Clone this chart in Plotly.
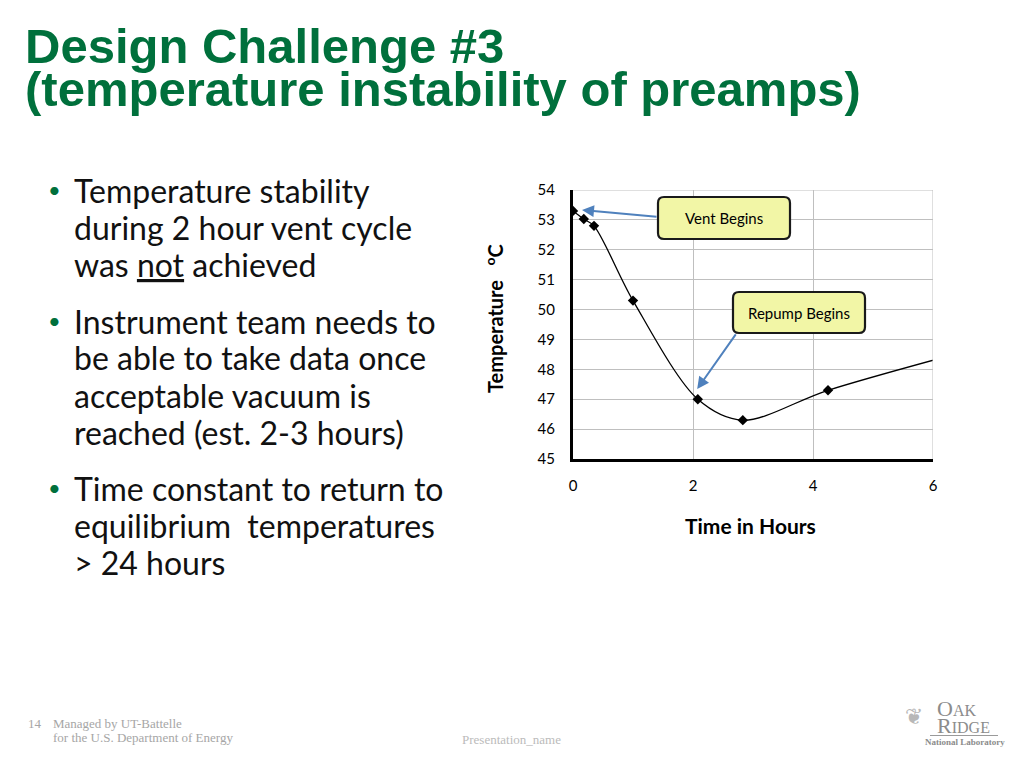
import plotly.graph_objects as go

# ---- data ----
time_hours = [0.0, 0.18, 0.35, 1.0, 2.08, 2.83, 4.25, 7.0]
temperature_c = [53.3, 53.03, 52.8, 50.3, 47.0, 46.3, 47.3, 48.85]
x_ticks = [0, 2, 4, 6]
y_ticks = [45, 46, 47, 48, 49, 50, 51, 52, 53, 54]

W, H = 1024, 768
def px(x):
    return x / W
def py(y):
    return 1 - y / H

GREEN = "#00703C"
BODY = "Lato"

fig = go.Figure()
fig.add_trace(go.Scatter(
    x=time_hours, y=temperature_c, mode="lines+markers",
    line=dict(color="black", width=1.3, shape="spline", smoothing=0.9),
    marker=dict(symbol="diamond", size=8, color="black"),
    cliponaxis=True, showlegend=False, hoverinfo="skip"))

fig.update_layout(
    template="none",
    width=W, height=H, margin=dict(l=0, r=0, t=0, b=0, pad=0, autoexpand=False),
    paper_bgcolor="white", plot_bgcolor="white", showlegend=False,
    xaxis=dict(domain=[px(573), px(933)], range=[0, 6], tickvals=x_ticks, automargin=False,
               showgrid=True, gridcolor="#BFBFBF", gridwidth=1,
               showline=True, linecolor="black", linewidth=3, mirror=False,
               zeroline=False, ticks="", ticklabelstandoff=11,
               tickfont=dict(family=BODY, size=15, color="black")),
    yaxis=dict(domain=[py(459), py(190)], range=[45, 54], tickvals=y_ticks, automargin=False,
               showgrid=True, gridcolor="#BFBFBF", gridwidth=1,
               showline=True, linecolor="black", linewidth=3,
               zeroline=False, ticks="", ticklabelstandoff=12,
               tickfont=dict(family=BODY, size=15, color="black")),
)

# top and right gridline borders
fig.add_shape(type="line", xref="x", yref="y", x0=0, x1=6, y0=54, y1=54,
              line=dict(color="#BFBFBF", width=1))
fig.add_shape(type="line", xref="x", yref="y", x0=6, x1=6, y0=45, y1=54,
              line=dict(color="#BFBFBF", width=1))

ann = []
# Title (single block; small base font gives tight line spacing)
ann.append(dict(x=px(23), y=py(67), xref="paper", yref="paper", xanchor="left", yanchor="middle",
                align="left",
                text="<span style='font-size:49px'><b>Design Challenge #3</b></span><br>"
                     "<span style='font-size:49px'><b>(temperature instability of preamps)</b></span>",
                showarrow=False,
                font=dict(family="Liberation Sans", size=33, color=GREEN)))

# Bullets
bullets = [
    (190, ["Temperature stability", "during 2 hour vent cycle", "was <u>not</u> achieved"]),
    (321, ["Instrument team needs to", "be able to take data once", "acceptable vacuum is", "reached (est. 2-3 hours)"]),
    (488, ["Time constant to return to", "equilibrium  temperatures", "&gt; 24 hours"]),
]
for y0, lines in bullets:
    ann.append(dict(x=px(54), y=py(y0 - 1), xref="paper", yref="paper", xanchor="center", yanchor="middle",
                    text="•", showarrow=False, font=dict(family=BODY, size=22, color=GREEN)))
    for i, line in enumerate(lines):
        ann.append(dict(x=px(72), y=py(y0 + 37 * i), xref="paper", yref="paper",
                        xanchor="left", yanchor="middle", text=line, showarrow=False,
                        font=dict(family=BODY, size=32, color="#111111")))

# axis titles
ann.append(dict(x=px(494), y=py(319), xref="paper", yref="paper", xanchor="center", yanchor="middle",
                text="<b>Temperature&nbsp;&nbsp;&nbsp;<sup>o</sup>C</b>", textangle=-90, showarrow=False,
                font=dict(family=BODY, size=20, color="black")))
ann.append(dict(x=px(750), y=py(525), xref="paper", yref="paper", xanchor="center", yanchor="middle",
                text="<b>Time in Hours</b>", showarrow=False,
                font=dict(family=BODY, size=21, color="black")))

# callout boxes (rounded rectangles)
def rounded(x0, y0, x1, y1, r=6):
    X0, X1 = px(x0), px(x1)
    Y0, Y1 = py(y0), py(y1)
    rx, ry = r / W, r / H
    return (f"M {X0+rx},{Y0} L {X1-rx},{Y0} Q {X1},{Y0} {X1},{Y0-ry} "
            f"L {X1},{Y1+ry} Q {X1},{Y1} {X1-rx},{Y1} L {X0+rx},{Y1} "
            f"Q {X0},{Y1} {X0},{Y1+ry} L {X0},{Y0-ry} Q {X0},{Y0} {X0+rx},{Y0} Z")

for (x0, y0, x1, y1, label) in [(658, 197, 790, 239, "Vent Begins"),
                                (733, 292, 865, 333, "Repump Begins")]:
    fig.add_shape(type="path", xref="paper", yref="paper", path=rounded(x0, y0, x1, y1),
                  fillcolor="#F2F6A6", line=dict(color="#1a1a1a", width=2.2))
    ann.append(dict(x=px((x0 + x1) / 2), y=py((y0 + y1) / 2), xref="paper", yref="paper",
                    xanchor="center", yanchor="middle", text=label, showarrow=False,
                    font=dict(family=BODY, size=15, color="black")))

# arrows
ARROW = "#4F81BD"
ann.append(dict(x=0.15, y=53.33, xref="x", yref="y", ax=1.417, ay=53.1, axref="x", ayref="y",
                text="", showarrow=True, arrowhead=2, arrowsize=1.2, arrowwidth=2, arrowcolor=ARROW,
                standoff=0, startstandoff=0))
ann.append(dict(x=2.07, y=47.34, xref="x", yref="y", ax=2.73, ay=49.22, axref="x", ayref="y",
                text="", showarrow=True, arrowhead=2, arrowsize=1.2, arrowwidth=2, arrowcolor=ARROW,
                standoff=0, startstandoff=0))

# footer
GRAY = "#A6A6A6"
ann.append(dict(x=px(26), y=py(723), xref="paper", yref="paper", xanchor="left", yanchor="middle",
                text="14", showarrow=False, font=dict(family="Liberation Serif", size=13, color=GRAY)))
ann.append(dict(x=px(51), y=py(730), xref="paper", yref="paper", xanchor="left", yanchor="middle",
                align="left",
                text="<span style='font-size:13px'>Managed by UT-Battelle</span><br>"
                     "<span style='font-size:13px'>for the U.S. Department of Energy</span>",
                showarrow=False,
                font=dict(family="Liberation Serif", size=11, color=GRAY)))
ann.append(dict(x=px(511), y=py(739), xref="paper", yref="paper", xanchor="center", yanchor="middle",
                text="Presentation_name", showarrow=False,
                font=dict(family="Liberation Serif", size=13, color="#BBBBBB")))
# logo (single block, tight line spacing from a small base font)
ann.append(dict(x=px(935), y=py(717), xref="paper", yref="paper", xanchor="left", yanchor="middle",
                align="left",
                text="<span style='font-size:22px'>O</span><span style='font-size:16px'>AK</span><br>"
                     "<span style='font-size:22px'>R</span><span style='font-size:16px'>IDGE</span>",
                showarrow=False,
                font=dict(family="Liberation Serif", size=13, color="#8C8C8C")))
ann.append(dict(x=px(965), y=py(742), xref="paper", yref="paper", xanchor="center", yanchor="middle",
                text="<b>National Laboratory</b>", showarrow=False,
                font=dict(family="Liberation Serif", size=9, color="#8C8C8C")))
ann.append(dict(x=px(914), y=py(716), xref="paper", yref="paper", xanchor="center", yanchor="middle",
                text="❦", showarrow=False,
                font=dict(family="DejaVu Sans", size=22, color="#B8B8B8")))
fig.add_shape(type="line", xref="paper", yref="paper", x0=px(930), x1=px(998), y0=py(735.5), y1=py(735.5),
              line=dict(color="#9A9A9A", width=1))

fig.update_layout(annotations=ann)
fig.write_html("out.html", config={"displayModeBar": False},
               post_script="document.body.style.margin='0';document.body.style.overflow='hidden';")
